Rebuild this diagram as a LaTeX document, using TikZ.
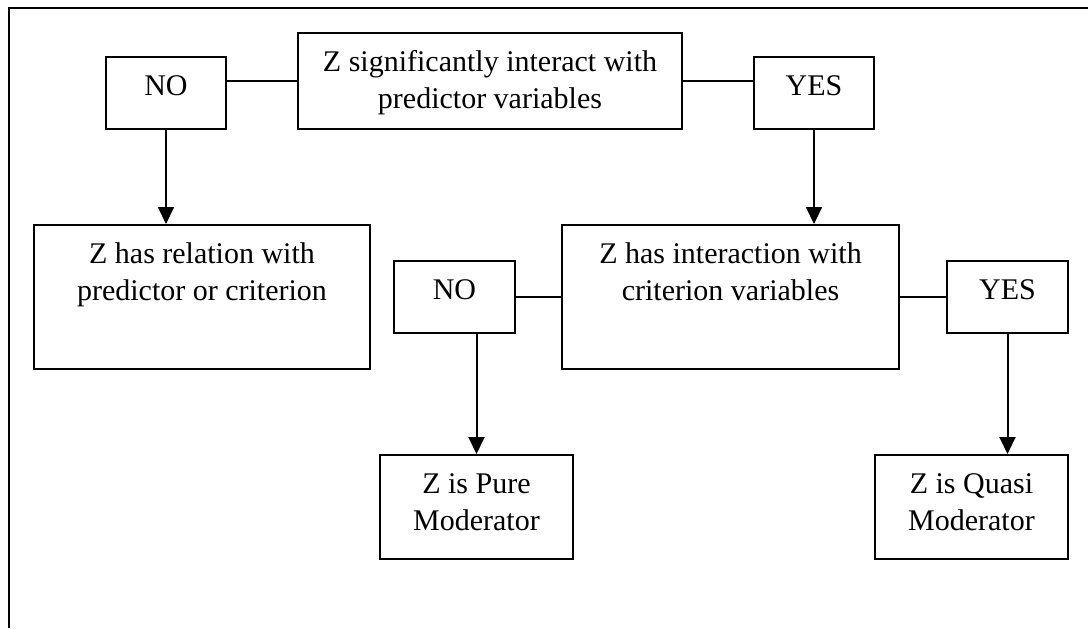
\documentclass[tikz,border=0pt]{standalone}
\usepackage{fontspec}
\setmainfont{Liberation Serif}
\usepackage{tikz}
\usetikzlibrary{arrows.meta, positioning}

\begin{document}
\begin{tikzpicture}[x=0.5pt, y=-0.5pt, line width=1pt,
    font=\fontsize{15}{18.5}\selectfont,
    box/.style={rectangle, draw, anchor=north west, align=center, inner ysep=0pt, text height=19pt},
    twoline/.style={text height=37.5pt},
    arr/.style={-{Triangle[width=8pt,length=8.5pt]}}]
          \useasboundingbox (0,0) rectangle (1088,628);
          \draw (9,628) -- (9,8) -- (1088,8);

          \node[box, minimum width=60pt, text depth=17pt] (no1) at (105,56) {NO};
          \node[box, twoline, minimum width=192pt, text depth=10.5pt] (q) at (297,32) {Z significantly interact with\\predictor variables};
          \node[box, minimum width=60pt, text depth=17pt] (yes1) at (753,56) {YES};
          \node[box, twoline, minimum width=168pt, text depth=34.5pt] (rel) at (33,224) {Z has relation with\\predictor or criterion};
          \node[box, twoline, minimum width=168.5pt, text depth=34.5pt] (inter) at (561,224) {Z has interaction with\\criterion variables};
          \node[box, minimum width=60.5pt, text depth=17pt] (no2) at (393,260) {NO};
          \node[box, minimum width=60.5pt, text depth=17pt] (yes2) at (946,260) {YES};
          \node[box, twoline, minimum width=96.5pt, text depth=14.5pt] (pure) at (379,454) {Z is Pure\\Moderator};
          \node[box, twoline, minimum width=96.5pt, text depth=14.5pt] (quasi) at (874,454) {Z is Quasi\\Moderator};

          \draw (q.west) -- (q.west -| no1.east);
          \draw (q.east) -- (q.east -| yes1.west);
          \draw (inter.west) -- (inter.west -| no2.east);
          \draw (inter.east) -- (inter.east -| yes2.west);
          \draw[arr] (no1.south) -- (no1.south |- rel.north);
          \draw[arr] (yes1.south) -- (yes1.south |- inter.north);
          \draw[arr] (pure.north |- no2.south) -- (pure.north);
          \draw[arr] (yes2.south) -- (yes2.south |- quasi.north);
        \end{tikzpicture}
\end{document}
